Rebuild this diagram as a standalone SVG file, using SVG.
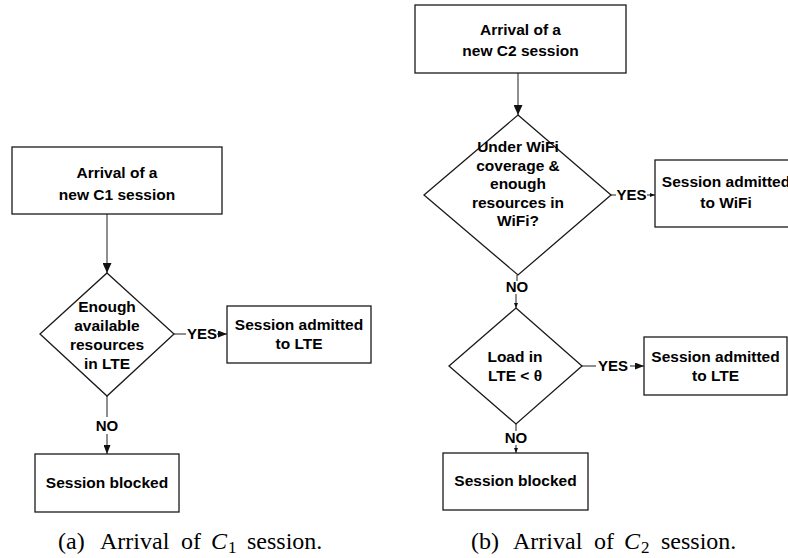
<svg xmlns="http://www.w3.org/2000/svg" width="788" height="558" viewBox="0 0 788 558">
<style>
.n{fill:#fff;stroke:#1a1a1a;stroke-width:1.3}
.t{font-family:"Liberation Sans",Arial,sans-serif;font-weight:bold;font-size:15.5px;fill:#000;text-anchor:middle}
.l{font-family:"Liberation Sans",Arial,sans-serif;font-weight:bold;font-size:15px;fill:#000;text-anchor:middle}
.c{fill:none;stroke:#333;stroke-width:1.1}
.cap{font-family:"Liberation Serif","Times New Roman",serif;font-size:24px;fill:#000}
</style>
<defs>
<marker id="ah" markerUnits="userSpaceOnUse" markerWidth="10" markerHeight="9" refX="10" refY="4.5" orient="auto"><path d="M0,0 L10,4.5 L0,9 z" fill="#111"/></marker>
<marker id="as" markerUnits="userSpaceOnUse" markerWidth="9" markerHeight="7" refX="9" refY="3.5" orient="auto"><path d="M0,0 L9,3.5 L0,7 z" fill="#111"/></marker>
<marker id="at" markerUnits="userSpaceOnUse" markerWidth="5" markerHeight="4" refX="5" refY="2" orient="auto"><path d="M0,0 L5,2 L0,4 z" fill="#111"/></marker>
</defs>

<g id="connectors">
<line class="c" x1="107" y1="214" x2="107" y2="273" marker-end="url(#ah)"/>
<line class="c" x1="174" y1="334" x2="186" y2="334"/>
<text class="l" x="202" y="339">YES</text>
<line class="c" x1="217" y1="334" x2="227" y2="334" marker-end="url(#as)"/>
<line class="c" x1="107" y1="396" x2="107" y2="417"/>
<text class="l" x="107" y="431">NO</text>
<line class="c" x1="107" y1="434" x2="107" y2="454" marker-end="url(#as)"/>
<line class="c" x1="518" y1="73" x2="518" y2="115" marker-end="url(#ah)"/>
<line class="c" x1="611" y1="195" x2="616" y2="195"/>
<text class="l" x="631.5" y="200">YES</text>
<line class="c" x1="647" y1="195" x2="655" y2="195" marker-end="url(#at)"/>
<line class="c" x1="517" y1="275" x2="517" y2="281"/>
<text class="l" x="517" y="292">NO</text>
<line class="c" x1="516" y1="294" x2="516" y2="308" marker-end="url(#at)"/>
<line class="c" x1="582" y1="366" x2="596" y2="366"/>
<text class="l" x="613" y="371">YES</text>
<line class="c" x1="630" y1="366" x2="644" y2="366" marker-end="url(#as)"/>
<line class="c" x1="516" y1="424" x2="516" y2="431"/>
<text class="l" x="516" y="443">NO</text>
<line class="c" x1="516" y1="445" x2="516" y2="453" marker-end="url(#at)"/>
</g>

<g id="a-start">
<rect class="n" x="12" y="147" width="210" height="67"/>
<text class="t" x="117" y="178">Arrival of a</text>
<text class="t" x="117" y="200">new C1 session</text>
</g>
<g id="a-decision">
<polygon class="n" points="107,273 174,334 107,396 40,334"/>
<text class="t" x="107" y="312">Enough</text>
<text class="t" x="107" y="331">available</text>
<text class="t" x="107" y="350">resources</text>
<text class="t" x="107" y="369">in LTE</text>
</g>
<g id="a-admit">
<rect class="n" x="227" y="306" width="144" height="57"/>
<text class="t" x="299" y="330">Session admitted</text>
<text class="t" x="299" y="349">to LTE</text>
</g>
<g id="a-blocked">
<rect class="n" x="35" y="454" width="144" height="58"/>
<text class="t" x="107" y="488">Session blocked</text>
</g>

<g id="b-start">
<rect class="n" x="415" y="5" width="211" height="68"/>
<text class="t" x="520.5" y="35">Arrival of a</text>
<text class="t" x="520.5" y="56">new C2 session</text>
</g>
<g id="b-wifi-decision">
<polygon class="n" points="518,115 611,195 518,275 424,195"/>
<text class="t" x="518" y="152">Under WiFi</text>
<text class="t" x="518" y="170.5">coverage &amp;</text>
<text class="t" x="518" y="189">enough</text>
<text class="t" x="518" y="207.5">resources in</text>
<text class="t" x="518" y="226">WiFi?</text>
</g>
<g id="b-wifi-admit">
<rect class="n" x="655" y="160" width="142" height="67"/>
<text class="t" x="726" y="187">Session admitted</text>
<text class="t" x="726" y="208">to WiFi</text>
</g>
<g id="b-lte-decision">
<polygon class="n" points="516,308 582,366 516,424 449,366"/>
<text class="t" x="515" y="362">Load in</text>
<text class="t" x="515" y="381">LTE &lt; θ</text>
</g>
<g id="b-lte-admit">
<rect class="n" x="644" y="337" width="143" height="58"/>
<text class="t" x="715.5" y="362">Session admitted</text>
<text class="t" x="715.5" y="381">to LTE</text>
</g>
<g id="b-blocked">
<rect class="n" x="443" y="453" width="145" height="57"/>
<text class="t" x="515.5" y="486">Session blocked</text>
</g>

<text class="cap" y="549"><tspan x="58">(a)</tspan><tspan x="100">Arrival</tspan><tspan x="181">of</tspan><tspan x="211" font-style="italic">C</tspan><tspan x="228" dy="4" font-size="17">1</tspan><tspan x="247" dy="-4">session.</tspan></text>
<text class="cap" y="549"><tspan x="471">(b)</tspan><tspan x="513">Arrival</tspan><tspan x="594">of</tspan><tspan x="624" font-style="italic">C</tspan><tspan x="641" dy="4" font-size="17">2</tspan><tspan x="661" dy="-4">session.</tspan></text>
</svg>
